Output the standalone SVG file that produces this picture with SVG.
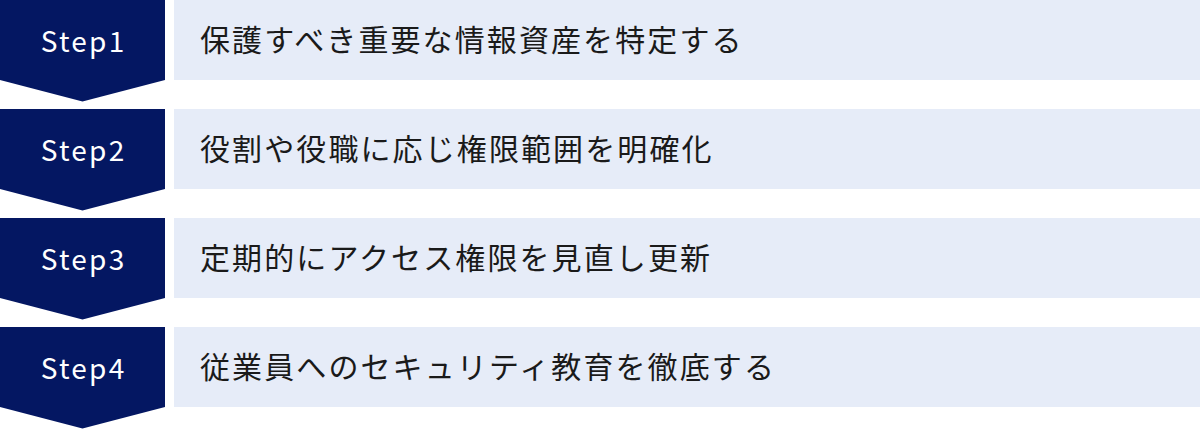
<svg xmlns="http://www.w3.org/2000/svg" width="1200" height="429" viewBox="0 0 1200 429">
<defs>
<style>
.chev{fill:#041762}
.bar{fill:#E6ECF8}
.step{font-family:"Noto Sans CJK JP","Noto Sans",sans-serif;font-size:28px;fill:#ffffff;letter-spacing:2.25px}
.txt{font-family:"Noto Sans CJK JP","Noto Sans",sans-serif;font-size:30px;fill:#1a1a1a;letter-spacing:2.1px}
</style>
</defs>
<g id="step1" transform="translate(0,0)">
<rect class="bar" x="174" y="0" width="1026" height="80"/>
<polygon class="chev" points="0,0 165,0 165,80 82.5,101.5 0,80"/>
<text class="step" x="83.6" y="52" text-anchor="middle">Step1</text>
<text class="txt" x="200" y="51">保護すべき重要な情報資産を特定する</text>
</g>
<g id="step2" transform="translate(0,109)">
<rect class="bar" x="174" y="0" width="1026" height="80"/>
<polygon class="chev" points="0,0 165,0 165,80 82.5,101.5 0,80"/>
<text class="step" x="83.6" y="52" text-anchor="middle">Step2</text>
<text class="txt" x="200" y="51">役割や役職に応じ権限範囲を明確化</text>
</g>
<g id="step3" transform="translate(0,218)">
<rect class="bar" x="174" y="0" width="1026" height="80"/>
<polygon class="chev" points="0,0 165,0 165,80 82.5,101.5 0,80"/>
<text class="step" x="83.6" y="52" text-anchor="middle">Step3</text>
<text class="txt" x="200" y="51">定期的にアクセス権限を見直し更新</text>
</g>
<g id="step4" transform="translate(0,327)">
<rect class="bar" x="174" y="0" width="1026" height="80"/>
<polygon class="chev" points="0,0 165,0 165,80 82.5,101.5 0,80"/>
<text class="step" x="83.6" y="52" text-anchor="middle">Step4</text>
<text class="txt" x="200" y="51">従業員へのセキュリティ教育を徹底する</text>
</g>
<g id="connectors"></g>
</svg>
